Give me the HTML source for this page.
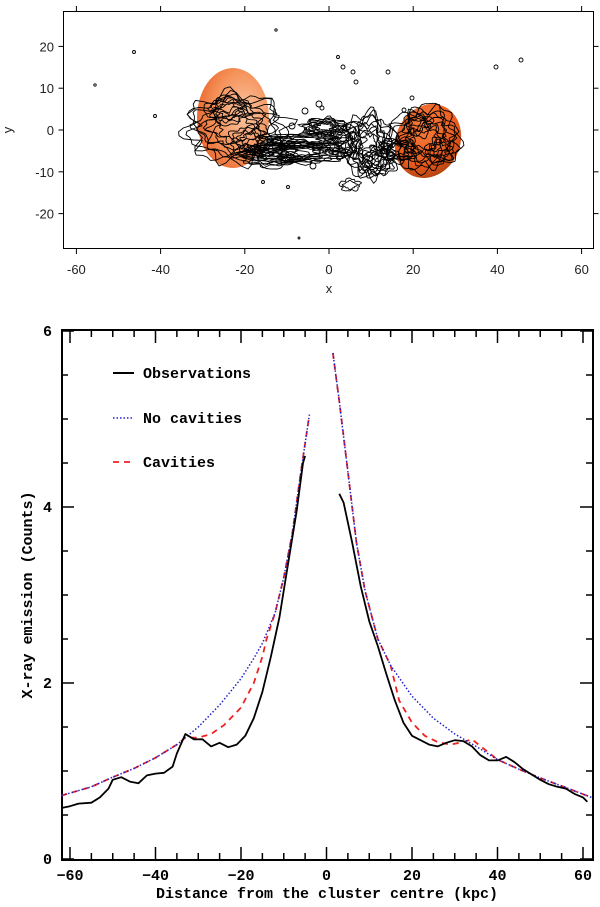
<!DOCTYPE html>
<html><head><meta charset="utf-8"><style>
html,body{margin:0;padding:0;background:#fff;}
svg{display:block;}
.t1{font-family:"Liberation Sans",Arial,sans-serif;font-size:13px;fill:#222;}
.t2{font-family:"Liberation Mono","DejaVu Sans Mono",monospace;font-weight:bold;font-size:15px;fill:#000;}
</style></head><body>
<svg id="root" width="600" height="907" viewBox="0 0 600 907" xmlns="http://www.w3.org/2000/svg">
<defs>
<radialGradient id="gl" cx="0.65" cy="0.45" r="0.7"><stop offset="0" stop-color="#fbc6a2"/><stop offset="0.6" stop-color="#f5925a"/><stop offset="1" stop-color="#e8642a"/></radialGradient>
<radialGradient id="gr" cx="0.35" cy="0.35" r="0.75"><stop offset="0" stop-color="#f77c3c"/><stop offset="0.7" stop-color="#e85a1c"/><stop offset="1" stop-color="#a93f10"/></radialGradient>
</defs>
<g id="top">
<rect x="63.5" y="11.5" width="530" height="237" fill="none" stroke="#000" stroke-width="1"/>
<ellipse cx="233" cy="118" rx="36" ry="50" fill="url(#gl)"/>
<ellipse cx="428" cy="141" rx="32" ry="38" transform="rotate(25 428 141)" fill="url(#gr)"/>
<g id="contours" fill="none" stroke="#000" stroke-width="0.9"></g>
<g id="topaxes"></g>
<text class="t1" x="329" y="293" text-anchor="middle">x</text>
<text class="t1" x="12" y="130" text-anchor="middle" transform="rotate(-90 12 130)">y</text>
</g>
<g id="bottom">
<rect x="62" y="330" width="531" height="530" fill="none" stroke="#000" stroke-width="2"/>
<g id="baxes"></g>
<g id="series"></g>
<text class="t2" x="327" y="898" text-anchor="middle">Distance from the cluster centre (kpc)</text>
<text class="t2" x="32" y="595" text-anchor="middle" transform="rotate(-90 32 595)">X-ray emission (Counts)</text>
<g>
<line x1="113" y1="373" x2="134" y2="373" stroke="#000" stroke-width="2"/>
<text class="t2" x="143" y="378">Observations</text>
<line x1="113" y1="418" x2="134" y2="418" stroke="#22c" stroke-width="1.5" stroke-dasharray="1.5 2"/>
<text class="t2" x="143" y="423">No cavities</text>
<line x1="113" y1="462" x2="134" y2="462" stroke="#e22" stroke-width="1.8" stroke-dasharray="6 5"/>
<text class="t2" x="143" y="467">Cavities</text>
</g>
</g>
</svg>
<script>
// ---- chart data ----
const obsLeftX = [-62,-60,-58,-55,-53,-51,-50,-48,-46,-44,-42,-40,-38,-36,-35,-33,-31,-29,-27,-25,-23,-21,-19,-17,-15,-13,-11,-9,-7,-5.5,-5];
const obsLeftY = [0.58,0.6,0.63,0.64,0.7,0.8,0.9,0.93,0.88,0.86,0.95,0.97,0.98,1.05,1.2,1.42,1.36,1.36,1.28,1.32,1.27,1.3,1.4,1.6,1.9,2.3,2.75,3.35,3.95,4.5,4.58];
const obsRightX = [3,4,6,8,10,12,14,16,18,20,22,24,26,28,30,32,34,36,38,40,42,44,46,48,50,52,54,56,58,60,61];
const obsRightY = [4.15,4.05,3.6,3.1,2.7,2.42,2.1,1.8,1.55,1.4,1.35,1.3,1.28,1.32,1.35,1.34,1.28,1.18,1.12,1.12,1.16,1.1,1.02,0.96,0.9,0.85,0.82,0.8,0.74,0.7,0.65];
const modLeftX = [-62,-55,-50,-45,-40,-35,-30,-25,-20,-17,-15,-12,-10,-8,-6,-4];
const modLeftY = [0.72,0.82,0.93,1.03,1.15,1.3,1.5,1.75,2.05,2.28,2.45,2.8,3.2,3.7,4.4,5.05];
const modRightX = [1.5,3,5,7,9,12,15,20,25,30,35,40,45,50,55,62];
const modRightY = [5.75,5.2,4.4,3.6,3.05,2.5,2.2,1.85,1.6,1.42,1.28,1.13,1.02,0.92,0.83,0.7];
const cavLeftX = [-62,-55,-50,-45,-40,-35,-33,-30,-27,-24,-20,-17,-15,-14,-12,-10,-8,-6,-4];
const cavLeftY = [0.72,0.82,0.93,1.03,1.15,1.3,1.38,1.38,1.42,1.52,1.72,2.0,2.3,2.5,2.8,3.2,3.7,4.4,5.05];
const cavRightX = [1.5,3,5,7,9,12,15,17,20,23,26,29,32,34,40,45,50,55,62];
const cavRightY = [5.75,5.2,4.4,3.6,3.05,2.5,2.2,1.8,1.55,1.4,1.33,1.3,1.33,1.36,1.13,1.02,0.92,0.83,0.7];
const bxTicks = [-60,-40,-20,0,20,40,60];
const byTicks = [0,2,4,6];
const txTicks = [-60,-40,-20,0,20,40,60];
const tyTicks = [-20,-10,0,10,20];

const NS='http://www.w3.org/2000/svg';
function mk(tag,attrs,parent){const e=document.createElementNS(NS,tag);for(const k in attrs)e.setAttribute(k,attrs[k]);parent.appendChild(e);return e;}
const bx = v => 326.5 + v*4.275;
const by = v => 859 - v*88;
const tx = v => 329 + v*4.21;
const ty = v => 130 - v*4.18;

// bottom axes
const ba=document.getElementById('baxes');
for(let v=-60;v<=60;v+=5){const major=v%20===0;
 const l=mk('line',{x1:bx(v),x2:bx(v),y1:859,y2:859-(major?12:6),stroke:'#000','stroke-width':1.5},ba);
  
 const l2=mk('line',{x1:bx(v),x2:bx(v),y1:331,y2:331+(major?12:6),stroke:'#000','stroke-width':1.5},ba);
  }
bxTicks.forEach(v=>{const t=mk('text',{class:'t2',x:bx(v),y:880,'text-anchor':'middle'},ba);t.textContent=v===0?'0':(v<0?'\u2212'+(-v):v);
  });
for(let v=0;v<=6;v+=0.5){const major=v%2===0;
 const l=mk('line',{x1:62,x2:62+(major?12:6),y1:by(v),y2:by(v),stroke:'#000','stroke-width':1.5},ba);
  
 const l2=mk('line',{x1:592,x2:592-(major?12:6),y1:by(v),y2:by(v),stroke:'#000','stroke-width':1.5},ba);
  }
byTicks.forEach(v=>{const t=mk('text',{class:'t2',x:52,y:by(v)+5,'text-anchor':'end'},ba);t.textContent=v;
  });

// series
const sg=document.getElementById('series');
function pts(xs,ys){return xs.map((x,i)=>bx(x).toFixed(1)+','+by(ys[i]).toFixed(1)).join(' ');}
function line(xs,ys,st,name){const p=mk('polyline',Object.assign({points:pts(xs,ys),fill:'none'},st),sg);
  }
const redSt={stroke:'#e22','stroke-width':1.8,'stroke-dasharray':'6 5'};
const bluSt={stroke:'#22c','stroke-width':1.5,'stroke-dasharray':'1.5 2'};
line(cavLeftX,cavLeftY,redSt,'cavities-left');
line(cavRightX,cavRightY,redSt,'cavities-right');
line(modLeftX,modLeftY,bluSt,'no-cavities-left');
line(modRightX,modRightY,bluSt,'no-cavities-right');
const obsSt={stroke:'#000','stroke-width':1.8,'stroke-linejoin':'round'};
line(obsLeftX,obsLeftY,obsSt,'observations-left');
line(obsRightX,obsRightY,obsSt,'observations-right');

// top axes
const ta=document.getElementById('topaxes');
txTicks.forEach(v=>{[[249,254],[11,6]].forEach(([a,b],k)=>{const l=mk('line',{x1:tx(v),x2:tx(v),y1:a,y2:b,stroke:'#000','stroke-width':1},ta);
  });
 const t=mk('text',{class:'t1',x:tx(v),y:274,'text-anchor':'middle'},ta);t.textContent=v;
  });
tyTicks.forEach(v=>{[[63.5,58.5],[593.5,598.5]].forEach(([a,b],k)=>{const l=mk('line',{x1:a,x2:b,y1:ty(v),y2:ty(v),stroke:'#000','stroke-width':1},ta);
  });
 const t=mk('text',{class:'t1',x:54,y:ty(v)+5,'text-anchor':'end'},ta);t.textContent=v;
  });

// decorative contours (image, not data)
const cg=document.getElementById('contours');
function blob(cx,cy,rx,ry,n,ph){let d='';for(let i=0;i<=64;i++){const a=i/64*Math.PI*2;
 const w=1+0.14*Math.sin(a*n+ph)+0.08*Math.sin(a*(n+4)+ph*2.3)+0.05*Math.sin(a*(n+9)+ph*0.7);
 const x=cx+rx*w*Math.cos(a),y=cy+ry*w*Math.sin(a);d+=(i?'L':'M')+x.toFixed(1)+','+y.toFixed(1);}
 const p=mk('path',{d:d+'Z'},cg); }
const groups=[[236,128,50,34,9],[228,110,22,14,4],[250,140,20,14,4],[270,155,32,12,7],[300,152,48,11,10],[305,140,40,7,6],[325,127,22,9,8],[345,142,18,16,5],[368,145,24,32,10],[378,160,18,16,6],[398,150,20,12,6],[425,138,34,32,9],[418,125,14,12,3],[440,150,14,12,3],[350,185,10,6,2]];
groups.forEach((g,gi)=>{for(let k=1;k<=g[4];k++){const f=0.25+0.75*k/g[4];blob(g[0],g[1],g[2]*f,g[3]*f,4+((k+gi)%5),k*1.7+gi*0.9);}});
[[134,52,1.5],[95,85,1.2],[155,116,1.5],[276,30,1.2],[338,57,1.5],[343,67,2],[353,72,2],[356,82,2],[388,72,2],[496,67,2],[521,60,2],[263,182,1.5],[288,187,1.5],[299,238,1],[313,166,3],[305,111,3],[319,104,3],[322,108,2],[292,126,3],[404,110,2],[412,98,2]].forEach(s=>{
 const c=mk('circle',{cx:s[0],cy:s[1],r:s[2]},cg); });
</script>
</body></html>
